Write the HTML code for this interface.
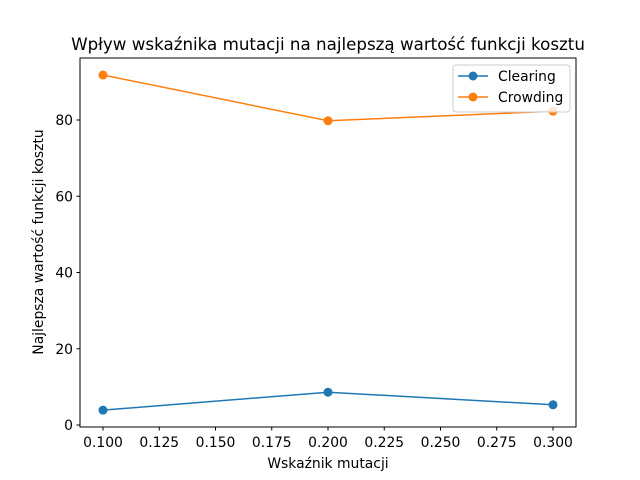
<!DOCTYPE html>
<html><head><meta charset="utf-8"><style>body{margin:0;background:#fff}svg{display:block;font-family:"DejaVu Sans","Liberation Sans",sans-serif}</style></head>
<body>
<svg id="chart" width="640" height="480">
<rect x="0" y="0" width="640" height="480" fill="#fff"/>
<text x="328" y="50" text-anchor="middle" font-size="16.7">Wpływ wskaźnika mutacji na najlepszą wartość funkcji kosztu</text>
<g id="plot"></g>
<rect x="80" y="58" width="496" height="369" fill="none" stroke="#000" stroke-width="1"/>
<text x="328" y="468" text-anchor="middle" font-size="13.9">Wskaźnik mutacji</text>
<text transform="translate(43,242) rotate(-90)" text-anchor="middle" font-size="13.9">Najlepsza wartość funkcji kosztu</text>
<g>
<rect x="453" y="65" width="117" height="47" rx="3" fill="#fff" fill-opacity="0.8" stroke="#ccc"/>
<line x1="458" y1="76" x2="488" y2="76" stroke="#1f77b4" stroke-width="1.5"/><circle cx="473" cy="76" r="4.5" fill="#1f77b4"/>
<text x="498" y="81" font-size="13.9">Clearing</text>
<line x1="458" y1="97" x2="488" y2="97" stroke="#ff7f0e" stroke-width="1.5"/><circle cx="473" cy="97" r="4.5" fill="#ff7f0e"/>
<text x="498" y="102" font-size="13.9">Crowding</text>
</g>
</svg>
<script>
const xValues=[0.1,0.2,0.3];
const clearing=[3.9,8.6,5.3];
const crowding=[91.8,79.8,82.3];
const xTicks=[0.1,0.125,0.15,0.175,0.2,0.225,0.25,0.275,0.3];
const xTickLabels=["0.100","0.125","0.150","0.175","0.200","0.225","0.250","0.275","0.300"];
const yTicks=[0,20,40,60,80];
const X=v=>103+(v-0.1)*2250;
const Y=v=>425-v*3.8125;
const NS="http://www.w3.org/2000/svg";
const g=document.getElementById('plot');
function mk(t,a){const e=document.createElementNS(NS,t);for(const k in a)e.setAttribute(k,a[k]);g.appendChild(e);return e;}
xTicks.forEach((t,i)=>{
 const l=mk('line',{x1:X(t),x2:X(t),y1:427,y2:430.5,stroke:'#000'});
 
 
 const s=mk('text',{x:X(t),y:447,'text-anchor':'middle','font-size':13.9});s.textContent=xTickLabels[i];
 
 
});
yTicks.forEach(t=>{
 const l=mk('line',{x1:76.5,x2:80,y1:Y(t),y2:Y(t),stroke:'#000'});
 
 
 const s=mk('text',{x:73,y:Y(t)+5,'text-anchor':'end','font-size':13.9});s.textContent=t;
 
 
});
[[clearing,'#1f77b4','clearing'],[crowding,'#ff7f0e','crowding']].forEach(([d,c,n])=>{
 const p=mk('polyline',{points:d.map((v,i)=>X(xValues[i])+','+Y(v)).join(' '),fill:'none',stroke:c,'stroke-width':1.5});
 
 
 d.forEach((v,i)=>{const m=mk('circle',{cx:X(xValues[i]),cy:Y(v),r:4.5,fill:c});
 
 });
});
</script>
</body></html>
